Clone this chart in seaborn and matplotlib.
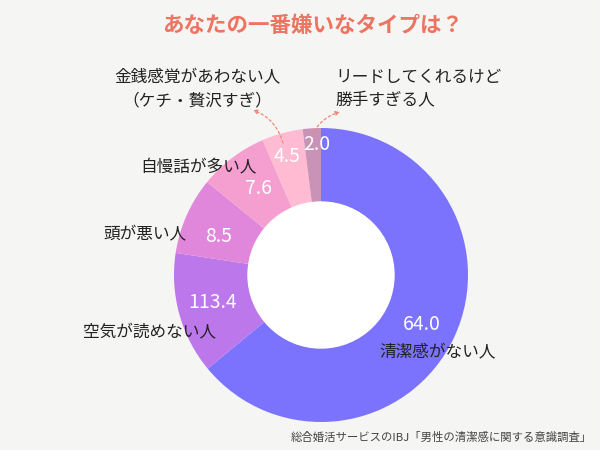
import matplotlib
matplotlib.use("Agg")
import matplotlib.pyplot as plt
import seaborn as sns

# data
categories = ["清潔感がない人", "空気が読めない人", "頭が悪い人", "自慢話が多い人",
              "金銭感覚があわない人\n（ケチ・贅沢すぎ）", "リードしてくれるけど\n勝手すぎる人"]
values = [64.0, 13.4, 8.5, 7.6, 4.5, 2.0]
value_labels = ["64.0", "113.4", "8.5", "7.6", "4.5", "2.0"]
colors = ["#7B73FE", "#BC77EB", "#E087DC", "#F59FD1", "#FFBBD2", "#C993B8"]

title = "あなたの一番嫌いなタイプは？"
source = "総合婚活サービスのIBJ「男性の清潔感に関する意識調査」"

sns.set_theme(style="white")
plt.rcParams["font.family"] = ["Noto Sans CJK JP", "DejaVu Sans"]

bg = "#F5F5F3"
fig = plt.figure(figsize=(6, 4.5), dpi=100, facecolor=bg)
ax = fig.add_axes([0, 0, 1, 1])
ax.set_facecolor(bg)
ax.set_xlim(0, 600)
ax.set_ylim(0, 450)
ax.set_aspect("equal")
ax.axis("off")

cx, cy = 321, 450 - 275
r_out, r_in = 147, 73

wedges, _ = ax.pie(values, colors=sns.color_palette(colors), startangle=90, counterclock=False,
                   center=(cx, cy), radius=r_out, frame=True,
                   wedgeprops=dict(width=r_out - r_in, linewidth=0))
ax.add_patch(plt.Circle((cx, cy), r_in, color="white", zorder=3))
ax.set_xlim(0, 600)
ax.set_ylim(0, 450)
ax.axis("off")

# value labels (pixel positions from the picture)
val_pos = [(422, 325), (213, 302), (219, 237), (258, 189), (287, 157), (317, 144)]
for (x, y), t in zip(val_pos, value_labels):
    ax.text(x, 450 - y, t, color="white", fontsize=14, ha="center", va="center", zorder=5)

# category labels
ax.text(438, 450 - 353, categories[0], fontsize=12, ha="center", va="center", color="#222222", zorder=5)
ax.text(150, 450 - 333, categories[1], fontsize=12, ha="center", va="center", color="#222222", zorder=5)
ax.text(145, 450 - 235, categories[2], fontsize=12, ha="center", va="center", color="#222222", zorder=5)
ax.text(198, 450 - 168, categories[3], fontsize=12, ha="center", va="center", color="#222222", zorder=5)
ax.text(197, 450 - 89, categories[4], fontsize=12, ha="center", va="center", color="#222222",
        linespacing=1.45, zorder=5)
ax.text(335, 450 - 89, categories[5], fontsize=12, ha="left", va="center", color="#222222",
        linespacing=1.45, zorder=5)

arrow = dict(arrowstyle="-|>", color="#EE8A7A", linestyle=(0, (2, 2)), lw=0.9,
             mutation_scale=6, shrinkA=0, shrinkB=0)
ax.annotate("", xy=(253, 450 - 110), xytext=(283, 450 - 143),
            arrowprops=dict(arrow, connectionstyle="arc3,rad=0.25"))
ax.annotate("", xy=(340, 450 - 112), xytext=(310, 450 - 140),
            arrowprops=dict(arrow, connectionstyle="arc3,rad=-0.25"))

ax.text(313, 450 - 25, title, fontsize=15.5, fontweight="bold", color="#EC7461",
        ha="center", va="center")
ax.text(592, 450 - 437, source, fontsize=8.2, color="#444444", ha="right", va="center")

fig.savefig("out.png", dpi=100, facecolor=bg)
